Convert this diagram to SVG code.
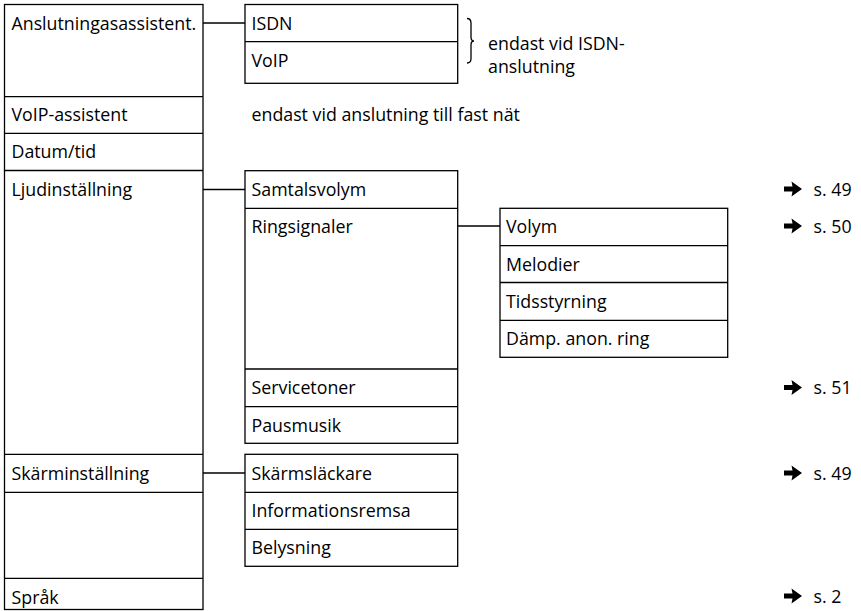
<svg xmlns="http://www.w3.org/2000/svg" width="861" height="611" viewBox="0 0 861 611">
<style>
.b{fill:none;stroke:#000;stroke-width:1.3}
.l{stroke:#000;stroke-width:1.3;fill:none}
text{font-family:"Open Sans","Noto Sans",sans-serif;font-size:17.8px;fill:#000}
.ar{fill:#000}
</style>
<defs>
<path id="arr" class="ar" d="M0,-2.6 L8.5,-2.6 L7.5,-7.5 L18,0 L7.5,7.5 L8.5,2.6 L0,2.6 Z"/>
</defs>
<rect width="861" height="611" fill="#fff"/>
<g id="connectors">
<line class="l" x1="203" y1="23" x2="245" y2="23"/>
<line class="l" x1="203" y1="189.5" x2="245" y2="189.5"/>
<line class="l" x1="457.7" y1="226" x2="500" y2="226"/>
<line class="l" x1="203" y1="473" x2="245" y2="473"/>
</g>
<g id="menu-main">
<rect class="b" x="4.5" y="4.5" width="198.5" height="605"/>
<line class="l" x1="4.5" y1="96.7" x2="203" y2="96.7"/>
<line class="l" x1="4.5" y1="133.3" x2="203" y2="133.3"/>
<line class="l" x1="4.5" y1="170.5" x2="203" y2="170.5"/>
<line class="l" x1="4.5" y1="454.3" x2="203" y2="454.3"/>
<line class="l" x1="4.5" y1="492.3" x2="203" y2="492.3"/>
<line class="l" x1="4.5" y1="578.3" x2="203" y2="578.3"/>
<text x="11.5" y="30">Anslutningasassistent.</text>
<text x="11.5" y="121">VoIP-assistent</text>
<text x="11.5" y="158">Datum/tid</text>
<text x="11.5" y="195.5">Ljudinställning</text>
<text x="11.5" y="479.5">Skärminställning</text>
<text x="11.5" y="603.5">Språk</text>
</g>
<g id="anslutning-sub">
<rect class="b" x="245" y="4.5" width="212.7" height="78.8"/>
<line class="l" x1="245" y1="41.7" x2="457.7" y2="41.7"/>
<text x="251.5" y="30">ISDN</text>
<text x="251.5" y="67">VoIP</text>
<path class="l" d="M467,18.5 Q471,18.5 471,23 L471,37 Q471,41 474,41 Q471,41 471,45 L471,58.5 Q471,63 467,63"/>
<text x="488" y="50">endast vid ISDN-</text>
<text x="488" y="73">anslutning</text>
</g>
<g id="voip-note">
<text x="251.5" y="121">endast vid anslutning till fast nät</text>
</g>
<g id="ljud-sub">
<rect class="b" x="245" y="170.7" width="212.7" height="272.6"/>
<line class="l" x1="245" y1="208.3" x2="457.7" y2="208.3"/>
<line class="l" x1="245" y1="369" x2="457.7" y2="369"/>
<line class="l" x1="245" y1="406.7" x2="457.7" y2="406.7"/>
<text x="251.5" y="196">Samtalsvolym</text>
<text x="251.5" y="233">Ringsignaler</text>
<text x="251.5" y="394">Servicetoner</text>
<text x="251.5" y="431.5">Pausmusik</text>
</g>
<g id="ring-sub">
<rect class="b" x="500" y="208.3" width="227.7" height="149"/>
<line class="l" x1="500" y1="245.7" x2="727.7" y2="245.7"/>
<line class="l" x1="500" y1="282.5" x2="727.7" y2="282.5"/>
<line class="l" x1="500" y1="320.3" x2="727.7" y2="320.3"/>
<text x="506" y="233">Volym</text>
<text x="506" y="270.5">Melodier</text>
<text x="506" y="307.5">Tidsstyrning</text>
<text x="506" y="345">Dämp. anon. ring</text>
</g>
<g id="skarm-sub">
<rect class="b" x="245" y="454.3" width="212.7" height="112"/>
<line class="l" x1="245" y1="492.3" x2="457.7" y2="492.3"/>
<line class="l" x1="245" y1="529.3" x2="457.7" y2="529.3"/>
<text x="251.5" y="479.5">Skärmsläckare</text>
<text x="251.5" y="516.5">Informationsremsa</text>
<text x="251.5" y="553.5">Belysning</text>
</g>
<g id="refs">
<use href="#arr" x="784" y="189"/><text x="813.5" y="195.5">s. 49</text>
<use href="#arr" x="784" y="226"/><text x="813.5" y="232.5">s. 50</text>
<use href="#arr" x="784" y="387.5"/><text x="813.5" y="394">s. 51</text>
<use href="#arr" x="784" y="473"/><text x="813.5" y="479.5">s. 49</text>
<use href="#arr" x="784" y="596"/><text x="813.5" y="602.5">s. 2</text>
</g>
</svg>
